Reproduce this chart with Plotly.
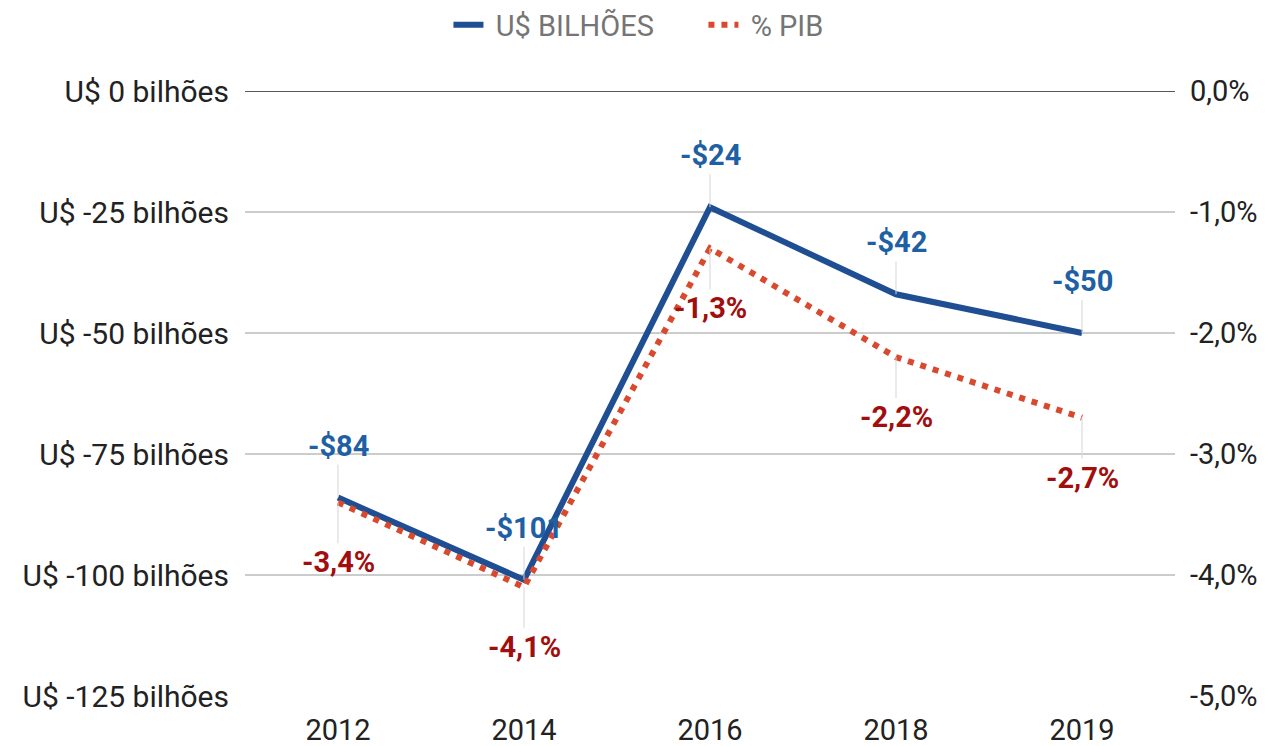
import plotly.graph_objects as go

years = ["2012", "2014", "2016", "2018", "2019"]
usd_bi = [-84, -101, -24, -42, -50]
pct_pib = [-3.4, -4.1, -1.3, -2.2, -2.7]
usd_labels = ["-$84", "-$101", "-$24", "-$42", "-$50"]
pct_labels = ["-3,4%", "-4,1%", "-1,3%", "-2,2%", "-2,7%"]
left_ticks = [0, -25, -50, -75, -100, -125]
left_ticktext = ["U$ 0 bilhões", "U$ -25 bilhões", "U$ -50 bilhões", "U$ -75 bilhões", "U$ -100 bilhões", "U$ -125 bilhões"]
right_ticks = [0, -1, -2, -3, -4, -5]
right_ticktext = ["0,0%", "-1,0%", "-2,0%", "-3,0%", "-4,0%", "-5,0%"]

BLUE = "#1f4e93"
RED = "#d8492e"
BLUE_LBL = "#1f5fa3"
RED_LBL = "#a10e0e"
FONT = "Roboto"

fig = go.Figure()
fig.add_trace(go.Scatter(x=years, y=usd_bi, name="\u00a0U$ BILHÕES", mode="lines",
                         line=dict(color=BLUE, width=6), yaxis="y"))
fig.add_trace(go.Scatter(x=years, y=pct_pib, name="\u00a0% PIB", mode="lines",
                         line=dict(color=RED, width=6, dash="6px,7px"), yaxis="y2"))

annotations = []
for i, (v, t) in enumerate(zip(usd_bi, usd_labels)):
    annotations.append(dict(x=i, y=v, xref="x", yref="y", text="<b>%s</b>" % t, showarrow=True,
                            arrowhead=0, arrowwidth=1, arrowcolor="#d5d5d5",
                            ax=0, ay=-33, font=dict(family=FONT, size=29, color=BLUE_LBL),
                            yanchor="bottom"))
for i, (v, t) in enumerate(zip(pct_pib, pct_labels)):
    annotations.append(dict(x=i, y=v, xref="x", yref="y2", text="<b>%s</b>" % t, showarrow=True,
                            arrowhead=0, arrowwidth=1, arrowcolor="#d5d5d5",
                            ax=0, ay=41, font=dict(family=FONT, size=29, color=RED_LBL),
                            yanchor="top"))

fig.update_layout(
    width=1261, height=738,
    margin=dict(l=237, r=94, t=83, b=50),
    paper_bgcolor="white", plot_bgcolor="white",
    font=dict(family=FONT, size=29, color="#222222"),
    showlegend=True,
    legend=dict(orientation="h", x=0.5515, xref="container", xanchor="center",
                y=0.977, yref="container", yanchor="middle",
                font=dict(family=FONT, size=29, color="#757575"),
                itemwidth=30, traceorder="normal",
                entrywidth=210, entrywidthmode="pixels"),
    xaxis=dict(type="category", range=[-0.5, len(years) - 0.5], showgrid=False,
               zeroline=False, showline=False, ticks="", ticklabelstandoff=14,
               automargin=False, tickfont=dict(size=29, color="#222222")),
    yaxis=dict(range=[-125, 0], tickvals=left_ticks, ticktext=left_ticktext,
               showgrid=True, gridcolor="#cccccc", gridwidth=1.5, zeroline=False,
               showline=False, ticks="", ticklabelstandoff=15, automargin=False,
               tickfont=dict(size=30, color="#222222")),
    yaxis2=dict(range=[-5, 0], tickvals=right_ticks, ticktext=right_ticktext,
                overlaying="y", side="right", showgrid=False, zeroline=False,
                showline=False, ticks="", ticklabelstandoff=14, automargin=False,
                tickfont=dict(size=29, color="#222222")),
    annotations=annotations,
    shapes=[dict(type="line", xref="paper", yref="y", x0=0, x1=1, y0=0, y1=0,
                 line=dict(color="#222222", width=1.5), layer="below")],
)

fig.write_html("out.html")
